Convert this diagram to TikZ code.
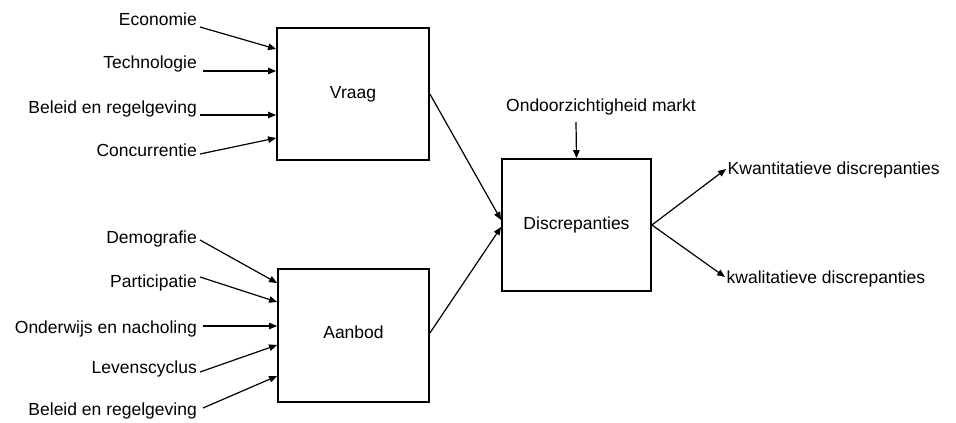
\documentclass[tikz,border=0pt]{standalone}
\usepackage{fontspec}
\setmainfont{Liberation Sans}
\usetikzlibrary{arrows.meta}
\begin{document}
\begin{tikzpicture}[x=1pt,y=-1pt,
  every node/.style={font=\fontsize{17.5}{20}\selectfont},
  box/.style={draw,line width=1.8pt,minimum width=#1,minimum height=132pt,inner sep=0pt},
  lefttxt/.style={anchor=base east,inner xsep=3pt,inner ysep=0pt},
  righttxt/.style={anchor=base west,inner xsep=1.5pt,inner ysep=0pt},
  feed/.style={line width=1.2pt,-{Triangle[length=8pt,width=6.5pt]}}]
\useasboundingbox (0,0) rectangle (956,423);

% the three blocks
\node[box=152pt] (vraag) at (353,94) {Vraag};
\node[box=151pt,minimum height=133pt] (aanbod) at (353.5,335.5) {\raisebox{7pt}{Aanbod}};
\node[box=149pt] (disc) at (576.5,225) {Discrepanties};

% factors on the demand side
\node[lefttxt] (eco) at (200,25) {Economie};
\node[lefttxt] (tech) at (200,68) {Technologie};
\node[lefttxt] (bel1) at (200,113) {Beleid en regelgeving};
\node[lefttxt] (conc) at (200,156) {Concurrentie};

% factors on the supply side
\node[lefttxt] (demo) at (200,243) {Demografie};
\node[lefttxt] (part) at (200,287) {Participatie};
\node[lefttxt] (ondw) at (200,333) {Onderwijs en nacholing};
\node[lefttxt] (leven) at (200,373) {Levenscyclus};
\node[lefttxt] (bel2) at (200,415) {Beleid en regelgeving};

% market transparency and outcomes
\node (ondo) at (601,107) {Ondoorzichtigheid markt};
\coordinate (ondoend) at (576,122);
\node[righttxt] (kwan) at (726,174) {Kwantitatieve discrepanties};
\node[righttxt] (kwal) at (725,283) {kwalitatieve discrepanties};

% arrows into Vraag
\draw[feed] (eco.east |- 0,27) -- (vraag.west |- 0,49);
\draw[feed] ([xshift=3pt]tech.east |- 0,71) -- (vraag.west |- 0,71);
\draw[feed] (bel1.east |- 0,115) -- (vraag.west |- 0,115);
\draw[feed] (conc.east |- 0,154) -- (vraag.west |- 0,138);

% arrows into Aanbod
\draw[feed] (demo.east |- 0,240) -- (aanbod.west |- 0,283);
\draw[feed] (part.east |- 0,277) -- (aanbod.west |- 0,302);
\draw[feed] ([xshift=3pt]ondw.east |- 0,326) -- (aanbod.west |- 0,326);
\draw[feed] (leven.east |- 0,372) -- (aanbod.west |- 0,345);
\draw[feed] ([xshift=3pt]bel2.east |- 0,408) -- (aanbod.west |- 0,376);

% into and out of Discrepanties
\draw[feed] (vraag.east) -- (disc.west |- 0,220);
\draw[feed] (aanbod.east |- 0,333) -- (disc.west |- 0,227);
\draw[feed] (ondoend) -- (disc.north);
\draw[feed] (disc.east) -- (kwan.west |- 0,169);
\draw[feed] (disc.east) -- (kwal.west |- 0,277);
\end{tikzpicture}
\end{document}
